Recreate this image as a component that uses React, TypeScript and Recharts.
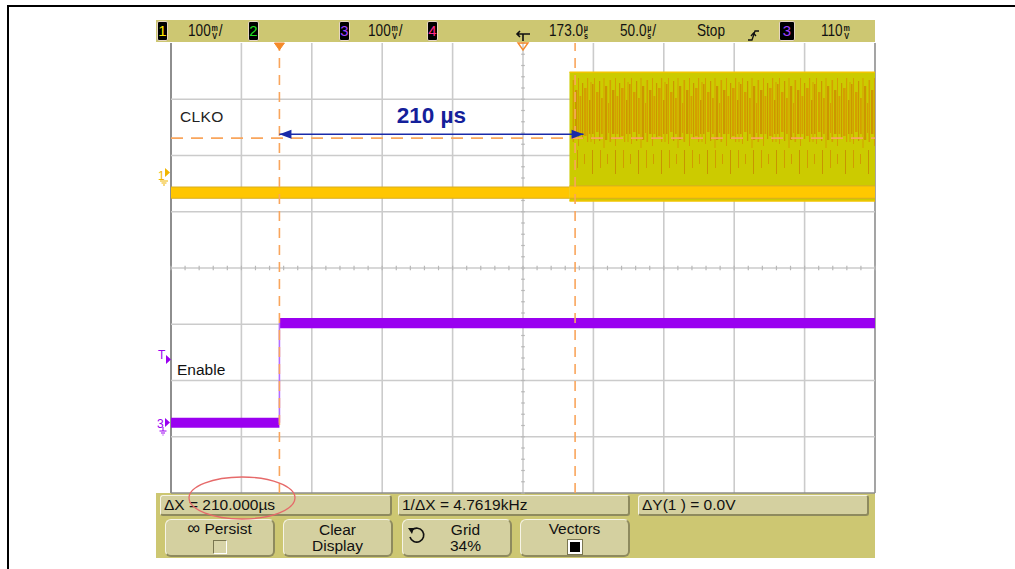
import React from 'react';
import { ComposedChart, Area, Line, XAxis, YAxis, ReferenceLine, ReferenceDot } from 'recharts';

// time base: 50 µs/div, 10 divs, trigger (173.0 µs) at centre
const timeDomainUs = [-77, 423];
const gridTimesUs = [-77, -27, 23, 73, 123, 173, 223, 273, 323, 373, 423];
const gridLevels = [0, 1, 2, 3, 4, 5, 6, 7, 8];
const triggerTimeUs = 173;

// cursors
const cursorTimesUs = [0, 210];
const cursorLevel = 6.31;

// measured span arrow
const spanArrowUs = [0, 216];
const spanArrowLevel = 6.38;
const spanLabel = '210 µs';

// channel 1: CLKO (levels in divisions)
const clkoIdle = [
  { t: -77, band: [5.24, 5.44] },
  { t: 206, band: [5.24, 5.44] },
];
const clkoActiveEnvelope = [
  { t: 206, band: [5.19, 7.48] },
  { t: 423, band: [5.19, 7.48] },
];
const clkoActiveBusy = [
  { t: 208, band: [6.1, 7.38] },
  { t: 423, band: [6.1, 7.38] },
];
const clkoActiveSparse = [
  { t: 208, band: [5.55, 6.1] },
  { t: 423, band: [5.55, 6.1] },
];
const clkoActiveFloor = [
  { t: 206, band: [5.24, 5.46] },
  { t: 423, band: [5.24, 5.46] },
];

// channel 3: Enable
const enableLow = [
  { t: -77, band: [1.16, 1.34] },
  { t: 0, band: [1.16, 1.34] },
];
const enableHigh = [
  { t: 0, band: [2.93, 3.11] },
  { t: 423, band: [2.93, 3.11] },
];
const enableEdge = [
  { t: 0, v: 1.25 },
  { t: 0, v: 3.02 },
];

// status line: value + stacked unit
const statusItems = [
  { kind: 'chan', label: '1', color: '#ffe800', x: 157 },
  { kind: 'text', label: '100', unit: ['m', 'V'], tail: '/', x: 188 },
  { kind: 'chan', label: '2', color: '#22dd22', x: 248 },
  { kind: 'chan', label: '3', color: '#a040ff', x: 339 },
  { kind: 'text', label: '100', unit: ['m', 'V'], tail: '/', x: 368 },
  { kind: 'chan', label: '4', color: '#ff2a8a', x: 427 },
  { kind: 'text', label: '173.0', unit: ['µ', 's'], tail: '', x: 549 },
  { kind: 'text', label: '50.0', unit: ['µ', 's'], tail: '/', x: 620 },
  { kind: 'text', label: 'Stop', x: 697 },
  { kind: 'chan', label: '3', color: '#a040ff', x: 779, wide: true },
  { kind: 'text', label: '110', unit: ['m', 'V'], tail: '', x: 821 },
];
const measurements = ['ΔX = 210.000µs', '1/ΔX = 4.7619kHz', 'ΔY(1 ) = 0.0V'];

const KHAKI = '#cdc772';
const ORANGE = '#f9a55c';
const plainFont = '"Liberation Sans", Arial, sans-serif';

const minorY = Array.from({ length: 41 }, (_, i) => i * 0.2);
const minorX = Array.from({ length: 51 }, (_, i) => timeDomainUs[0] + i * 10);

const CHART_MARGIN = { top: 43, right: 140, bottom: 76, left: 171 };

const raised: React.CSSProperties = {
  position: 'absolute',
  boxSizing: 'border-box',
  background: '#d4d0a0',
  borderTop: '1px solid #f6f4e6',
  borderLeft: '1px solid #f6f4e6',
  borderRight: '2px solid #8e8a5e',
  borderBottom: '2px solid #8e8a5e',
  color: '#111',
};

// irregular vertical streaks for the busy clock envelope
const noiseStreaks = [
  [0, 6, 1.5, 50], [2, 0, 1, 66], [4, 14, 2.5, 40], [7, 3, 1.2, 60], [9, 20, 1.8, 36],
  [11.5, 0, 1, 70], [13, 8, 2.2, 54], [16, 25, 1.2, 30], [17.5, 2, 1.6, 62], [20, 12, 2.4, 44],
  [23, 0, 1, 68], [24.5, 18, 1.8, 38], [27, 5, 1.2, 56], [29, 10, 2.6, 48], [32, 0, 1.2, 64],
  [34, 22, 1.6, 34], [35.5, 4, 1, 60],
];

function TopTriangle({ cx, cy, hollow }: any) {
  const d = `M${cx - 5},${cy} L${cx + 5},${cy} L${cx},${cy + 7} Z`;
  return hollow ? (
    <path d={d} fill="none" stroke="#f58a2a" strokeWidth={1.4} />
  ) : (
    <path d={d} fill="#f58a2a" stroke="#f58a2a" strokeWidth={1} />
  );
}

function ArrowHead({ cx, cy, dir }: any) {
  const b = cx - dir * 12;
  return <path d={`M${cx},${cy} L${b},${cy - 4.5} L${b},${cy + 4.5} Z`} fill="#1a2aa8" />;
}

function StatusText({ item }: any) {
  return (
    <div
      style={{
        position: 'absolute', left: item.x, top: 21, font: `17px ${plainFont}`, lineHeight: '20px', color: '#111',
        transform: 'scaleX(0.8)', transformOrigin: 'left center', whiteSpace: 'nowrap',
      }}
    >
      {item.label}
      {item.unit && (
        <span
          style={{
            display: 'inline-block', fontSize: 9, lineHeight: '8px', verticalAlign: 'top',
            textAlign: 'center', margin: '3px 1px 0 1px', fontWeight: 700,
          }}
        >
          {item.unit[0]}
          <br />
          {item.unit[1]}
        </span>
      )}
      {item.tail}
    </div>
  );
}

export default function App() {
  return (
    <div style={{ position: 'absolute', left: 0, top: 0, width: 1015, height: 569, background: '#fff', overflow: 'hidden' }}>
      {/* page frame */}
      <div style={{ position: 'absolute', left: 7, top: 5, width: 1008, height: 2, background: '#000' }} />
      <div style={{ position: 'absolute', left: 7, top: 5, width: 2, height: 564, background: '#000' }} />

      {/* scope panels */}
      <div style={{ position: 'absolute', left: 156, top: 20, width: 719, height: 22, background: KHAKI }} />
      <div style={{ position: 'absolute', left: 156, top: 493, width: 719, height: 65, background: KHAKI }} />

      {/* status line */}
      {statusItems.map((s, i) =>
        s.kind === 'chan' ? (
          <div
            key={i}
            style={{
              position: 'absolute', left: s.x, top: 21, width: s.wide ? 16 : 11, height: 20, boxSizing: 'border-box',
              background: '#000', border: '1px solid #e6d6c0', borderRadius: 2, color: s.color,
              font: `15px ${plainFont}`, lineHeight: '18px', textAlign: 'center',
            }}
          >
            {s.label}
          </div>
        ) : (
          <StatusText key={i} item={s} />
        )
      )}

      {/* graticule layer (behind traces) */}
      <ComposedChart width={1015} height={569} margin={CHART_MARGIN} style={{ position: 'absolute', left: 0, top: 0 }}>
        <XAxis type="number" dataKey="t" domain={timeDomainUs} hide allowDataOverflow />
        <YAxis type="number" domain={[0, 8]} hide allowDataOverflow />
        {gridTimesUs.map((t, i) => (
          <ReferenceLine
            key={`gx${t}`}
            x={t}
            stroke={i === 0 || i === gridTimesUs.length - 1 ? '#8e8e8e' : '#cbcbcb'}
            strokeWidth={i === 0 ? 2 : 1.6}
          />
        ))}
        {gridLevels.slice(0, -1).map((v, i) => (
          <ReferenceLine key={`gy${v}`} y={v} stroke={i === 0 ? '#8e8e8e' : '#cbcbcb'} strokeWidth={1.6} />
        ))}
        {minorY.map((v) => (
          <ReferenceLine
            key={`my${v}`}
            segment={[{ x: triggerTimeUs - 1.3, y: v }, { x: triggerTimeUs + 1.3, y: v }]}
            stroke="#b8b8b8"
            strokeWidth={1.2}
          />
        ))}
        {minorX.map((t) => (
          <ReferenceLine
            key={`mx${t}`}
            segment={[{ x: t, y: 3.96 }, { x: t, y: 4.04 }]}
            stroke="#b8b8b8"
            strokeWidth={1.2}
          />
        ))}
      </ComposedChart>

      {/* traces, cursors and annotation */}
      <ComposedChart width={1015} height={569} margin={CHART_MARGIN} style={{ position: 'absolute', left: 0, top: 0 }}>
        <defs>
          <pattern id="clkoNoise" patternUnits="userSpaceOnUse" width="37" height="72" y="78">
            {noiseStreaks.map(([x, y, w, h], i) => (
              <rect key={i} x={x} y={y} width={w} height={h} fill={i % 3 === 0 ? '#cc9600' : '#d49f00'} />
            ))}
          </pattern>
          <pattern id="clkoSparse" patternUnits="userSpaceOnUse" width="23" height="31" y="150">
            <rect x="2" y="0" width="1" height="18" fill="#d09c00" />
            <rect x="9" y="4" width="1" height="10" fill="#d09c00" />
            <rect x="17" y="0" width="1" height="24" fill="#c89400" />
          </pattern>
        </defs>
        <XAxis type="number" dataKey="t" domain={timeDomainUs} hide allowDataOverflow />
        <YAxis type="number" domain={[0, 8]} hide allowDataOverflow />

        {/* CLKO */}
        <Area data={clkoIdle} dataKey="band" type="linear" fill="#ffc600" fillOpacity={1} stroke="#d8ad20" strokeWidth={1} dot={false} activeDot={false} isAnimationActive={false} />
        <Area data={clkoActiveEnvelope} dataKey="band" type="linear" fill="#cccb00" fillOpacity={1} stroke="#f2c400" strokeWidth={1.5} dot={false} activeDot={false} isAnimationActive={false} />
        <Area data={clkoActiveSparse} dataKey="band" type="linear" fill="url(#clkoSparse)" fillOpacity={1} stroke="none" dot={false} activeDot={false} isAnimationActive={false} />
        <Area data={clkoActiveBusy} dataKey="band" type="linear" fill="url(#clkoNoise)" fillOpacity={1} stroke="none" dot={false} activeDot={false} isAnimationActive={false} />
        <Area data={clkoActiveFloor} dataKey="band" type="linear" fill="#ffc800" fillOpacity={1} stroke="#d8ad20" strokeWidth={1} dot={false} activeDot={false} isAnimationActive={false} />

        {/* Enable */}
        <Area data={enableLow} dataKey="band" type="linear" fill="#9a00f0" fillOpacity={1} stroke="none" dot={false} activeDot={false} isAnimationActive={false} />
        <Area data={enableHigh} dataKey="band" type="linear" fill="#9a00f0" fillOpacity={1} stroke="none" dot={false} activeDot={false} isAnimationActive={false} />
        <Line data={enableEdge} dataKey="v" type="linear" stroke="#b46cff" strokeWidth={1.6} dot={false} activeDot={false} isAnimationActive={false} />

        {/* cursors */}
        {cursorTimesUs.map((t) => (
          <ReferenceLine key={`c${t}`} x={t} stroke={ORANGE} strokeWidth={1.6} strokeDasharray="10 7" />
        ))}
        <ReferenceLine y={cursorLevel} stroke={ORANGE} strokeWidth={1.8} strokeDasharray="12 8" />
        <ReferenceDot x={cursorTimesUs[0]} y={8} r={5} shape={(p: any) => <TopTriangle {...p} />} />
        <ReferenceDot x={triggerTimeUs} y={8} r={5} shape={(p: any) => <TopTriangle {...p} hollow />} />

        {/* span annotation */}
        <ReferenceLine
          segment={[{ x: spanArrowUs[0], y: spanArrowLevel }, { x: spanArrowUs[1], y: spanArrowLevel }]}
          stroke="#1a2aa8"
          strokeWidth={1.5}
          label={{ value: spanLabel, position: 'top', offset: 11, fill: '#14209a', fontSize: 22.5, fontWeight: 700, fontFamily: plainFont }}
        />
        <ReferenceDot x={spanArrowUs[0]} y={spanArrowLevel} r={4} shape={(p: any) => <ArrowHead {...p} dir={-1} />} />
        <ReferenceDot x={spanArrowUs[1]} y={spanArrowLevel} r={4} shape={(p: any) => <ArrowHead {...p} dir={1} />} />
      </ComposedChart>

      {/* trace labels */}
      <div style={{ position: 'absolute', left: 180, top: 108, font: `15.5px ${plainFont}`, color: '#222', letterSpacing: 0.4 }}>CLKO</div>
      <div style={{ position: 'absolute', left: 177, top: 361, font: `15.5px ${plainFont}`, color: '#111' }}>Enable</div>

      {/* decorative markers */}
      <svg width={1015} height={569} style={{ position: 'absolute', left: 0, top: 0, pointerEvents: 'none' }}>
        {/* trigger icon */}
        <path d="M523,41 V34 H530 M523,34 H517 M520,31 L517,34 L520,37" fill="none" stroke="#111" strokeWidth={1.6} />
        {/* edge icon */}
        <path d="M748,40 H752 L755,31 H759 M751,36 L753.5,33 L756,36" fill="none" stroke="#111" strokeWidth={1.3} />
        {/* channel 1 marker */}
        <text x={158} y={180} fontSize={12} fill="#f0b400" fontFamily={plainFont}>1</text>
        <path d="M165,168 L170,172.5 L165,177 Z" fill="#f0b400" />
        <path d="M160,181 H168 M161.5,183 H166.5 M163,185 H165" stroke="#f0b400" strokeWidth={1} />
        {/* trigger level marker */}
        <text x={158} y={359} fontSize={12} fill="#9a00f0" fontFamily={plainFont}>T</text>
        <path d="M166,355 L171,359.5 L166,364 Z" fill="#9a00f0" />
        {/* channel 3 marker */}
        <text x={157} y={428} fontSize={12} fill="#9a00f0" fontFamily={plainFont}>3</text>
        <path d="M165,418 L170,422.5 L165,427 Z" fill="#9a00f0" />
        <path d="M163,427 V431 M159.5,431 H166.5 M161,433 H165 M162.5,435 H163.5" stroke="#9a00f0" strokeWidth={1} />
      </svg>

      {/* measurement line */}
      {measurements.map((m, i) => {
        const left = [160, 398, 638][i];
        const width = [232, 232, 231][i];
        return (
          <div key={i} style={{ ...raised, left, top: 495, width, height: 21, borderRadius: 3, font: `15.5px ${plainFont}`, lineHeight: '18px', paddingLeft: 3, whiteSpace: 'nowrap' }}>
            {m}
          </div>
        );
      })}

      {/* softkeys */}
      <div style={{ ...raised, left: 165, top: 519, width: 110, height: 38, borderRadius: 6, font: `15.5px ${plainFont}`, textAlign: 'center', lineHeight: '17px' }}>
        <span style={{ fontSize: 18 }}>∞</span> Persist
        <div style={{ position: 'absolute', left: 47, top: 20, width: 14, height: 14, boxSizing: 'border-box', background: '#d8d4a8', borderTop: '1px solid #7a7650', borderLeft: '1px solid #7a7650', borderRight: '1px solid #fff', borderBottom: '1px solid #fff' }} />
      </div>
      <div style={{ ...raised, left: 283, top: 519, width: 110, height: 38, borderRadius: 6, font: `15.5px ${plainFont}`, textAlign: 'center', lineHeight: '16px', paddingTop: 2 }}>
        Clear<br />Display
      </div>
      <div style={{ ...raised, left: 402, top: 519, width: 110, height: 38, borderRadius: 6, font: `15.5px ${plainFont}`, textAlign: 'center', lineHeight: '16px', paddingTop: 2 }}>
        <div style={{ paddingLeft: 18 }}>Grid<br />34%</div>
        <svg width={22} height={20} style={{ position: 'absolute', left: 3, top: 5 }}>
          <path d="M6,5 A7,7 0 1 1 4,12" fill="none" stroke="#111" strokeWidth={1.6} />
          <path d="M2,3 L8,3 L6,9 Z" fill="#111" />
        </svg>
      </div>
      <div style={{ ...raised, left: 520, top: 519, width: 110, height: 38, borderRadius: 6, font: `15.5px ${plainFont}`, textAlign: 'center', lineHeight: '17px' }}>
        Vectors
        <div style={{ position: 'absolute', left: 47, top: 20, width: 14, height: 14, boxSizing: 'border-box', background: '#000', border: '2px solid #fff', outline: '1px solid #7a7650' }} />
      </div>

      {/* highlight ellipse */}
      <svg width={1015} height={569} style={{ position: 'absolute', left: 0, top: 0, pointerEvents: 'none' }}>
        <ellipse cx={242} cy={498} rx={53} ry={21} fill="none" stroke="#e66a6a" strokeWidth={1.3} />
      </svg>
    </div>
  );
}
